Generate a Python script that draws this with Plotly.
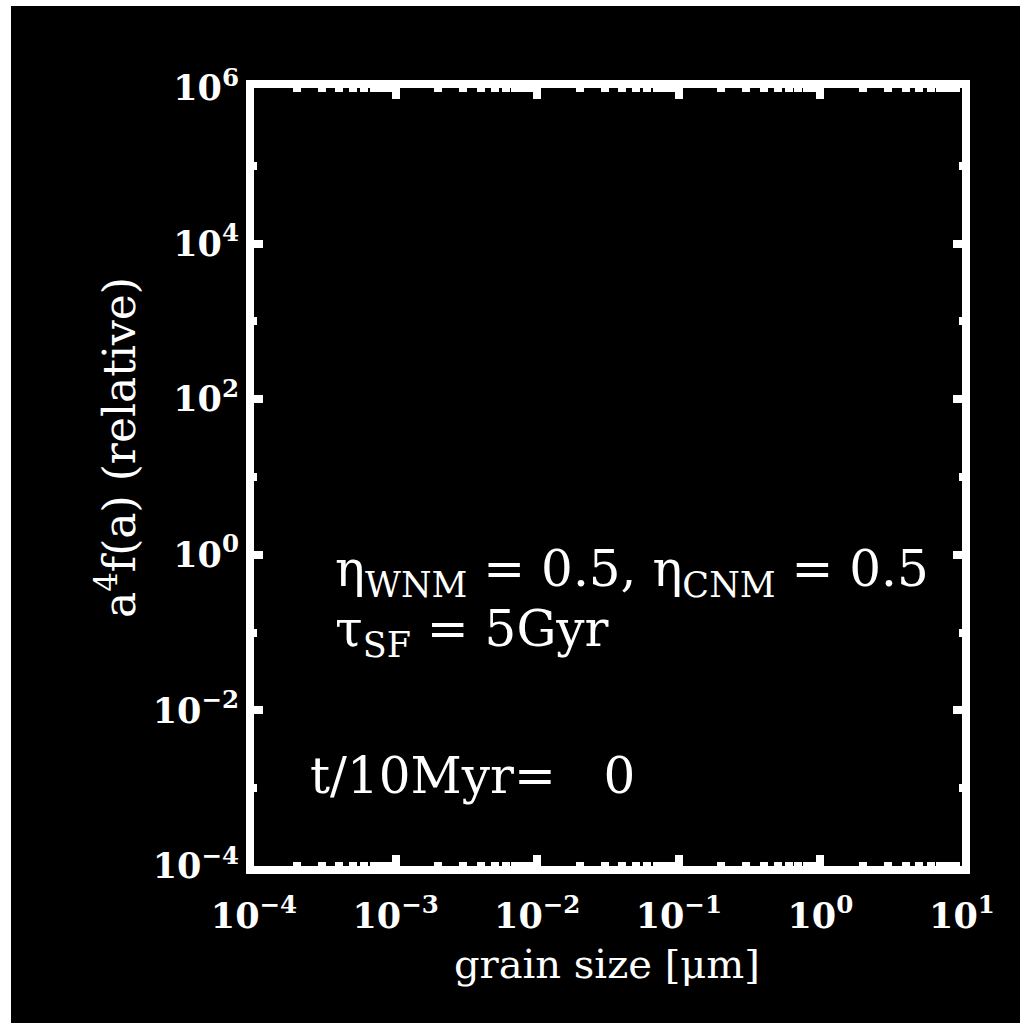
import plotly.graph_objects as go

# ---- data / labels ----
x_tickvals = [1e-4, 1e-3, 1e-2, 1e-1, 1e0, 1e1]
x_ticktext = ["10<sup>\u22124</sup>", "10<sup>\u22123</sup>", "10<sup>\u22122</sup>",
              "10<sup>\u22121</sup>", "10<sup>0</sup>", "10<sup>1</sup>"]
y_tickvals = [1e-4, 1e-2, 1e0, 1e2, 1e4, 1e6]
y_ticktext = ["10<sup>\u22124</sup>", "10<sup>\u22122</sup>", "10<sup>0</sup>",
              "10<sup>2</sup>", "10<sup>4</sup>", "10<sup>6</sup>"]
y_minor = [1e-3, 1e-1, 1e1, 1e3, 1e5]
x_title = "grain size [\u03bcm]"
y_title = "a<sup>4</sup>f(a) (relative)"
label_params = "\u03b7<sub>WNM</sub> = 0.5, \u03b7<sub>CNM</sub> = 0.5"
label_tau = "\u03c4<sub>SF</sub> = 5Gyr"
label_time = "t/10Myr=\u00a0\u00a0\u00a00"
# empty size distribution at t = 0 (nothing plotted)
grain_size = []
a4fa = []

W, H = 1020, 1030
L, R, T, B = 254, 58, 88, 164
PW, PH = W - L - R, H - T - B


def px(xp):
    return (xp - L) / PW


def py(yp):
    return 1 - (yp - T) / PH


FONT = "DejaVu Serif"

fig = go.Figure()
fig.add_trace(go.Scatter(x=grain_size, y=a4fa, mode="lines",
                         line=dict(color="white", width=3), showlegend=False))

minor_x = [k * 10.0 ** e for e in range(-4, 1) for k in range(2, 10)]

fig.update_xaxes(
    type="log", range=[-4, 1],
    tickvals=x_tickvals, ticktext=x_ticktext,
    ticks="inside", ticklen=11, tickwidth=8, tickcolor="white",
    showline=True, linewidth=8, linecolor="white", mirror="allticks",
    showgrid=False, zeroline=False, ticklabelstandoff=12,
    tickfont=dict(family=FONT, size=35, color="white", weight="bold"),
    minor=dict(tickvals=minor_x, ticks="inside", ticklen=4, tickwidth=8,
               tickcolor="white", showgrid=False),
)
fig.update_yaxes(
    type="log", range=[-4, 6],
    tickvals=y_tickvals, ticktext=y_ticktext,
    ticks="inside", ticklen=9, tickwidth=8, tickcolor="white",
    showline=True, linewidth=8, linecolor="white", mirror="allticks",
    showgrid=False, zeroline=False,
    tickfont=dict(family=FONT, size=35, color="white", weight="bold"),
    minor=dict(tickvals=y_minor, ticks="inside", ticklen=3, tickwidth=8,
               tickcolor="white", showgrid=False),
)

fig.add_shape(type="rect", xref="paper", yref="paper",
              x0=px(11), x1=px(1020), y0=py(1023), y1=py(6),
              fillcolor="black", line=dict(width=0), layer="below")

# axis titles
fig.add_annotation(text=x_title, xref="paper", yref="paper",
                   x=px(607), y=py(964), xanchor="center", yanchor="middle",
                   showarrow=False, font=dict(family=FONT, size=40, color="white"))
fig.add_annotation(text=y_title, xref="paper", yref="paper",
                   x=px(116), y=py(448), xanchor="center", yanchor="middle",
                   textangle=-90, showarrow=False,
                   font=dict(family=FONT, size=44, color="white"))

ann_font = dict(family=FONT, size=50, color="white")
fig.add_annotation(text=label_params, xref="paper", yref="paper",
                   x=px(333), y=py(572), xanchor="left", yanchor="middle",
                   showarrow=False, font=ann_font)
fig.add_annotation(text=label_tau, xref="paper", yref="paper",
                   x=px(333), y=py(632), xanchor="left", yanchor="middle",
                   showarrow=False, font=ann_font)
fig.add_annotation(text=label_time, xref="paper", yref="paper",
                   x=px(308), y=py(776), xanchor="left", yanchor="middle",
                   showarrow=False, font=ann_font)

fig.update_layout(
    width=W, height=H,
    margin=dict(l=L, r=R, t=T, b=B, autoexpand=False),
    paper_bgcolor="white", plot_bgcolor="black",
    showlegend=False,
)

fig.write_html("out.html")
